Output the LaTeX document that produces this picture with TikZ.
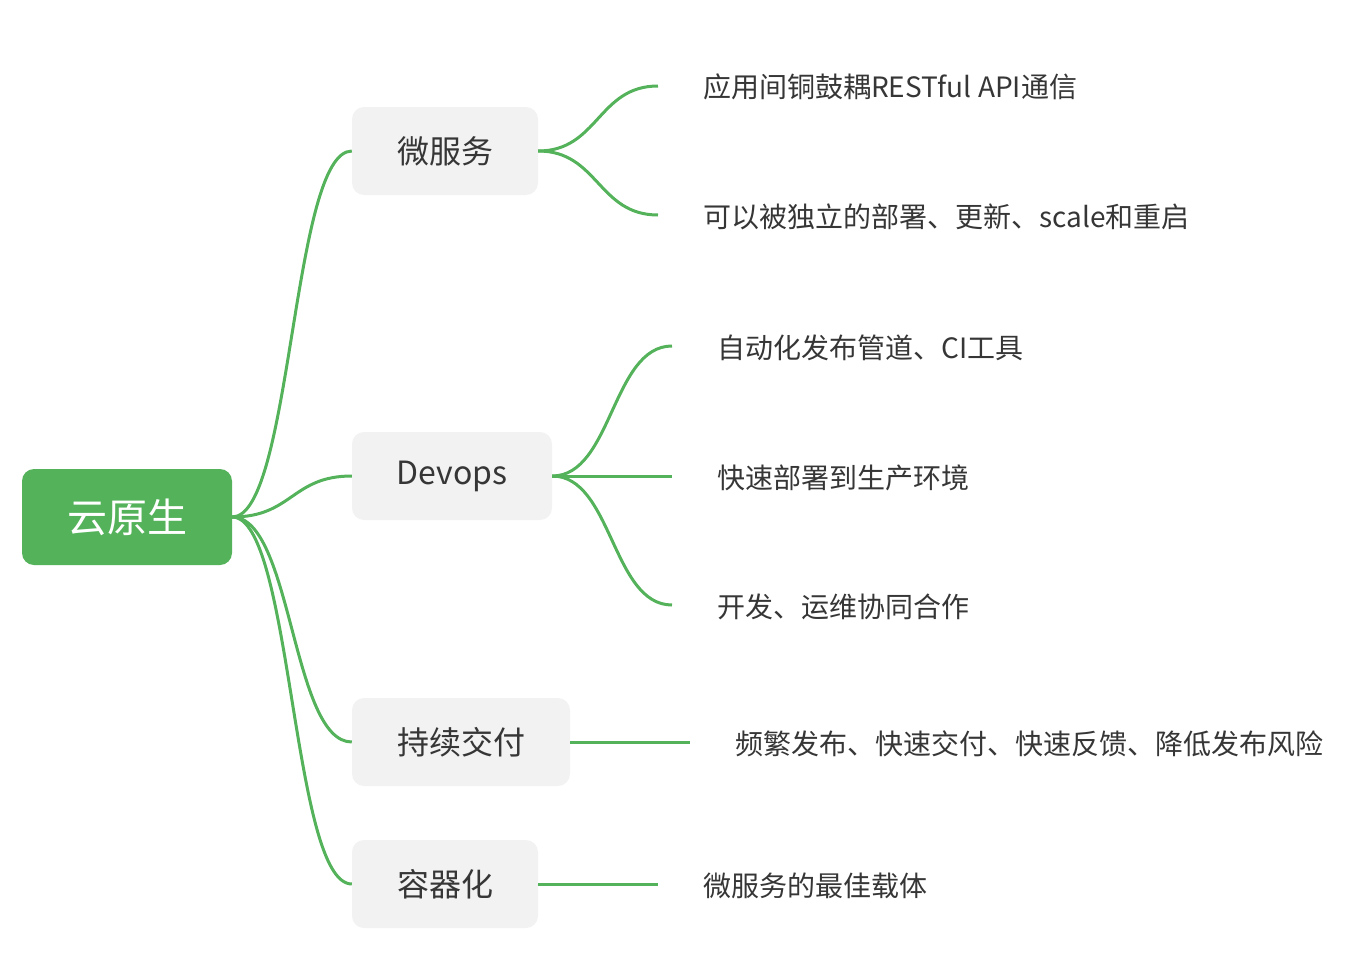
\documentclass[tikz,border=0pt]{standalone}
\usepackage{fontspec}
\setmainfont{Noto Sans CJK SC}
\definecolor{mmgreen}{HTML}{53B25A}
\definecolor{mmgray}{HTML}{F2F2F2}
\definecolor{mmtext}{HTML}{363636}
\begin{document}
\begin{tikzpicture}[x=1pt,y=-1pt,
  rootbox/.style={fill=mmgreen, rounded corners=12pt, text=white, font=\fontsize{40}{48}\selectfont, minimum width=210pt, minimum height=96pt, inner sep=0pt},
  topic/.style={fill=mmgray, rounded corners=12pt, text=mmtext, font=\fontsize{32}{38}\selectfont, minimum height=88pt, inner sep=0pt},
  leaf/.style={text=mmtext, font=\fontsize{28}{34}\selectfont, anchor=west, inner ysep=0pt, inner xsep=45pt},
  link/.style={draw=mmgreen, line width=3pt},
]
\useasboundingbox (0,0) rectangle (1358,958);
% root
\node[rootbox] (r) at (127,517) {云原生};
% topics
\node[topic, minimum width=186pt] (a) at (445,151) {微服务};
\node[topic, minimum width=200pt] (b) at (452,476) {\raisebox{-2pt}{Devops}};
\node[topic, minimum width=218pt] (c) at (461,742) {持续交付};
\node[topic, minimum width=186pt] (d) at (445,884) {容器化};
% leaves
\node[leaf] (a1) at (658,87) {应用间铜鼓耦RESTful API通信};
\node[leaf] (a2) at (658,217) {可以被独立的部署、更新、scale和重启};
\node[leaf] (b1) at (672,348) {自动化发布管道、CI工具};
\node[leaf] (b2) at (672,478) {快速部署到生产环境};
\node[leaf] (b3) at (672,607) {开发、运维协同合作};
\node[leaf] (c1) at (690,744) {频繁发布、快速交付、快速反馈、降低发布风险};
\node[leaf] (d1) at (658,886) {微服务的最佳载体};
% root links
\foreach \t in {a,b,c,d}
  \draw[link] (r.east) .. controls +(60,0) and +(-60,0) .. (\t.west);
% topic links
\draw[link] (a.east) .. controls +(60,0) and +(-60,0) .. ([yshift=1pt]a1.west);
\draw[link] (a.east) .. controls +(60,0) and +(-60,0) .. ([yshift=2pt]a2.west);
\draw[link] (b.east) .. controls +(60,0) and +(-60,0) .. ([yshift=2pt]b1.west);
\draw[link] (b.east) -- (b2.west |- b.east);
\draw[link] (b.east) .. controls +(60,0) and +(-60,0) .. ([yshift=2pt]b3.west);
\draw[link] (c.east) -- (c1.west |- c.east);
\draw[link] (d.east) -- (d1.west |- d.east);
\end{tikzpicture}
\end{document}
